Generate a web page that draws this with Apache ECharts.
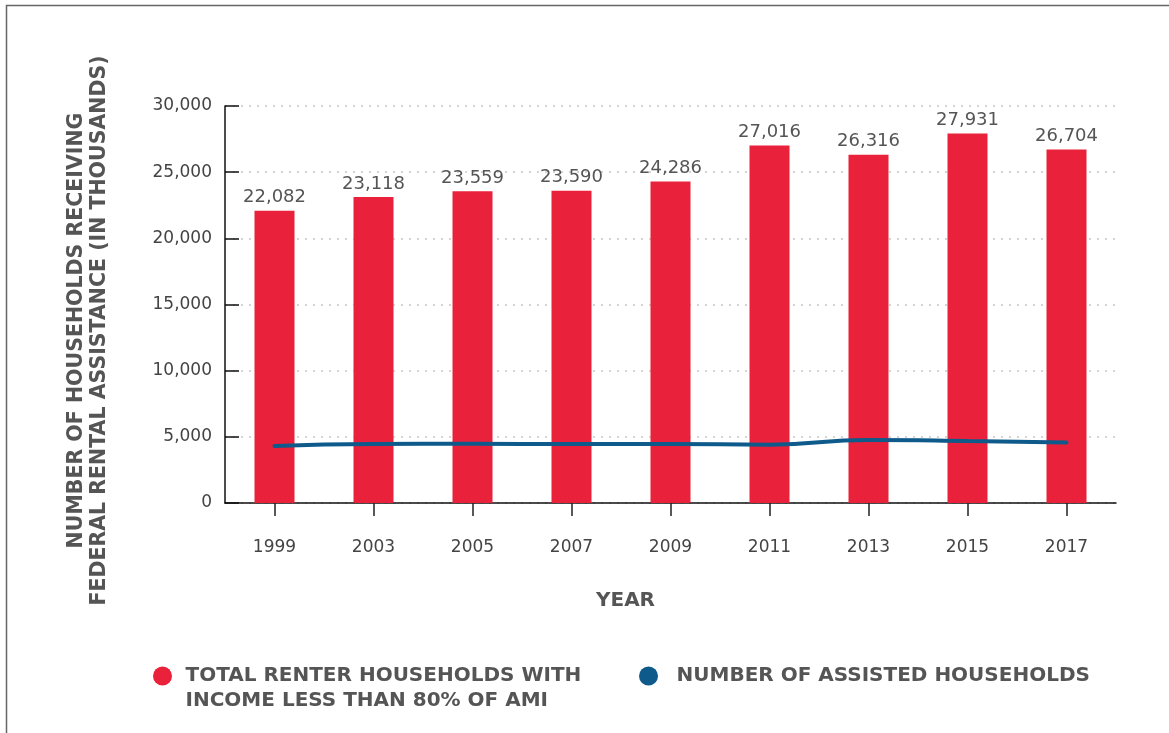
<!DOCTYPE html>
<html>
<head>
<meta charset="utf-8">
<script src="https://cdn.jsdelivr.net/npm/echarts@6/dist/echarts.min.js"></script>
<style>
  html, body { margin: 0; padding: 0; background: #fff; }
  #chart { width: 1169px; height: 733px; }
</style>
</head>
<body>
<div id="chart"></div>
<script>
// 数据
var years = ['1999', '2003', '2005', '2007', '2009', '2011', '2013', '2015', '2017'];
var renterHouseholds = [22082, 23118, 23559, 23590, 24286, 27016, 26316, 27931, 26704];
var assistedHouseholds = [4300, 4460, 4470, 4460, 4460, 4410, 4760, 4690, 4570];
var yTicks = [0, 5000, 10000, 15000, 20000, 25000, 30000];

var textGray = '#555';
var fmt = function (v) { return Number(v).toLocaleString('en-US'); };

var chart = echarts.init(document.getElementById('chart'));
var option = {
    animation: false,
    textStyle: { fontFamily: 'DejaVu Sans' },
    graphic: [{
        type: 'rect',
        shape: { x: 6.5, y: 5.5, width: 1300, height: 900 },
        style: { fill: 'none', stroke: '#666', lineWidth: 1.5 },
        silent: true
    }],
    grid: { left: 225, right: 53, top: 106, bottom: 230, containLabel: false },
    legend: [{
        left: 153,
        top: 638.5,
        padding: 0,
        itemWidth: 32,
        itemHeight: 19,
        icon: 'circle',
        data: ['TOTAL RENTER HOUSEHOLDS WITH\nINCOME LESS THAN 80% OF AMI'],
        // 第一行与圆点对齐
        formatter: function (name) { return '\n' + name; },
        textStyle: { color: textGray, fontSize: 20, fontWeight: 'bold', lineHeight: 25, padding: [0, 0, 0, 2] }
    }, {
        left: 639,
        top: 663.5,
        padding: 0,
        itemWidth: 32,
        itemHeight: 19,
        icon: 'circle',
        data: ['NUMBER OF ASSISTED HOUSEHOLDS'],
        textStyle: { color: textGray, fontSize: 20, fontWeight: 'bold', lineHeight: 25, padding: [0, 0, 0, 7] }
    }],
    xAxis: {
        type: 'category',
        data: years,
        name: 'YEAR',
        nameLocation: 'middle',
        nameGap: 88,
        nameTextStyle: { color: textGray, fontSize: 20, fontWeight: 'bold', padding: [0, 90, 0, 0] },
        axisLine: { lineStyle: { color: '#111', width: 1.5 } },
        axisTick: { show: true, alignWithLabel: true, length: 13, lineStyle: { color: '#222', width: 1.5 } },
        axisLabel: { color: '#444', fontSize: 17, margin: 36 }
    },
    yAxis: {
        type: 'value',
        min: yTicks[0],
        max: yTicks[yTicks.length - 1],
        interval: 5000,
        name: 'NUMBER OF HOUSEHOLDS RECEIVING\nFEDERAL RENTAL ASSISTANCE (IN THOUSANDS)',
        nameLocation: 'middle',
        nameGap: 114,
        nameTextStyle: { color: textGray, fontSize: 20.5, fontWeight: 'bold', lineHeight: 23, padding: [0, 52, 0, 0] },
        axisLine: { show: true, lineStyle: { color: '#111', width: 1.5 } },
        axisTick: { show: true, inside: true, length: 14, lineStyle: { color: '#111', width: 1.5 } },
        axisLabel: { color: '#444', fontSize: 17, margin: 13, formatter: fmt },
        splitLine: { lineStyle: { color: '#c8c8c8', type: [2, 6], width: 1.5 } }
    },
    series: [{
        name: 'TOTAL RENTER HOUSEHOLDS WITH\nINCOME LESS THAN 80% OF AMI',
        type: 'bar',
        data: renterHouseholds,
        barWidth: 40,
        itemStyle: { color: '#e9213a' },
        label: {
            show: true,
            position: 'top',
            distance: 4,
            color: textGray,
            fontSize: 18,
            formatter: function (p) { return fmt(p.value); }
        }
    }, {
        name: 'NUMBER OF ASSISTED HOUSEHOLDS',
        type: 'line',
        data: assistedHouseholds,
        smooth: true,
        showSymbol: false,
        itemStyle: { color: '#0e5a8a' },
        lineStyle: { color: '#0e5a8a', width: 4, cap: 'round' }
    }]
};
chart.setOption(option);
</script>
</body>
</html>
